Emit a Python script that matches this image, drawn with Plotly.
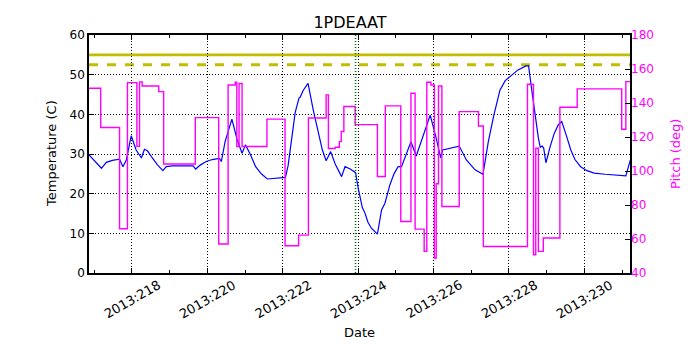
import plotly.graph_objects as go

# ---- data (day of year 2013) ----
temp_days = [216.86, 217.19, 217.32, 217.48, 217.67, 217.76, 217.85, 217.98, 218.11, 218.25,
             218.33, 218.41, 218.54, 218.67, 218.82, 218.91, 219.07, 219.62, 219.69, 219.81,
             219.97, 220.13, 220.32, 220.37, 220.47, 220.65, 220.79, 220.92, 221.01, 221.14,
             221.28, 221.43, 221.59, 222.07, 222.14, 222.25, 222.33, 222.43, 222.46, 222.54,
             222.67, 222.81, 222.96, 223.05, 223.15, 223.27, 223.39, 223.56, 223.65, 223.79,
             223.93, 224.00, 224.11, 224.18, 224.26, 224.35, 224.51, 224.62, 224.71, 224.84,
             224.95, 225.06, 225.15, 225.25, 225.40, 225.54, 225.72, 225.91, 226.06, 226.19,
             226.24, 226.44, 226.68, 226.87, 227.10, 227.31, 227.45, 227.59, 227.76,
             227.90, 228.03, 228.24, 228.45, 228.52, 228.58, 228.64, 228.71, 228.78, 228.83,
             228.88, 228.92, 228.98, 229.09, 229.20, 229.31, 229.40, 229.51, 229.64, 229.75,
             229.90, 230.07, 230.26, 230.55, 231.10, 231.22]
temp_vals = [29.8, 26.4, 27.9, 28.4, 28.7, 26.8, 28.5, 34.6, 31.0, 29.0,
             31.2, 30.8, 29.0, 27.3, 25.8, 26.8, 27.0, 27.0, 26.2, 27.2,
             28.1, 28.6, 28.9, 28.1, 33.1, 38.8, 33.6, 30.2, 32.3, 29.9,
             26.8, 25.0, 23.7, 24.1, 27.0, 35.2, 40.5, 44.1, 44.3, 46.0,
             47.8, 41.0, 34.4, 31.0, 28.3, 30.6, 27.5, 24.3, 26.8, 26.2,
             25.3, 21.4, 16.5, 15.1, 12.8, 11.3, 9.8, 15.9, 17.6, 22.2,
             25.0, 26.8, 26.8, 29.5, 33.1, 29.5, 34.4, 39.8, 34.4, 29.0,
             31.0, 31.5, 32.0, 28.5, 26.0, 24.9, 33.0, 39.4, 46.1,
             48.5, 49.5, 51.2, 52.2, 52.2, 47.8, 43.5, 38.6, 34.0, 31.7,
             32.0, 31.5, 27.8, 31.8, 35.2, 37.4, 38.2, 35.0, 31.0, 28.6,
             26.8, 25.8, 25.2, 24.9, 24.5, 28.5]

pitch_days = [216.86, 217.17, 217.67, 217.88, 218.13, 218.20, 218.27, 218.71, 218.84, 219.68,
              220.30, 220.55, 220.74, 220.78, 220.84, 220.92, 221.58, 222.06, 222.42, 222.68,
              223.15, 223.21, 223.39, 223.50, 223.55, 223.62, 223.92, 224.51, 224.72, 225.13,
              225.40, 225.51, 225.75, 225.82, 225.93, 226.02, 226.07, 226.13, 226.22, 226.68,
              227.19, 227.32, 228.49, 228.65, 228.71, 228.78, 228.91, 229.35, 229.81, 230.99,
              231.10, 231.21]
pitch_vals = [148.7, 125.6, 66.0, 152.0, 114.5, 152.4, 150.0, 146.7, 104.1, 131.4,
              57.1, 150.6, 152.2, 114.4, 151.5, 114.4, 130.5, 56.0, 62.3, 131.2,
              144.8, 113.2, 114.0, 117.3, 123.2, 137.9, 127.3, 96.8, 138.3, 70.3,
              145.7, 65.8, 52.7, 152.2, 150.6, 48.8, 92.5, 150.0, 79.1, 134.9,
              126.5, 55.6, 151.0, 50.7, 113.4, 52.7, 60.6, 137.5, 148.3, 124.6,
              152.6, 152.6]

tick_days = [218, 220, 222, 224, 226, 228, 230]
tick_labels = ["2013:218", "2013:220", "2013:222", "2013:224", "2013:226", "2013:228", "2013:230"]

planning_limit = 55.0
caution_limit = 52.5
marker_day = 223.93

FONT = "DejaVu Sans"
MAG = "#ff00ff"
GRID_DASH = "1px,2px"

fig = go.Figure()
fig.add_trace(go.Scatter(x=temp_days, y=temp_vals, mode="lines",
                         line=dict(color="#0000ff", width=1.2), yaxis="y"))
fig.add_trace(go.Scatter(x=pitch_days, y=pitch_vals, mode="lines", line_shape="hv",
                         line=dict(color=MAG, width=1.4), yaxis="y2"))

fig.add_hline(y=planning_limit, line=dict(color="#bfbf00", width=2.8), layer="below")
fig.add_hline(y=caution_limit, line=dict(color="#bfbf00", width=2.8, dash="dash"), layer="below")
fig.add_vline(x=marker_day, line=dict(color="#008000", width=1.6, dash="1px,2px"))

# x tick labels, rotated and centred on their ticks
for d, lab in zip(tick_days, tick_labels):
    fig.add_annotation(x=d, xref="x", y=0, yref="paper", yshift=-26, text=lab,
                       showarrow=False, textangle=-30, xanchor="center", yanchor="middle",
                       font=dict(family=FONT, size=13, color="black"))

fig.add_annotation(x=0.5, xref="paper", y=0, yref="paper", yshift=-59, text="Date",
                   showarrow=False, xanchor="center", yanchor="middle",
                   font=dict(family=FONT, size=13, color="black"))
fig.add_annotation(x=0, xref="paper", xshift=-38, y=0.5, yref="paper", text="Temperature (C)",
                   showarrow=False, textangle=-90, xanchor="center", yanchor="middle",
                   font=dict(family=FONT, size=13, color="black"))
fig.add_annotation(x=1, xref="paper", xshift=45, y=0.5, yref="paper", text="Pitch (deg)",
                   showarrow=False, textangle=-90, xanchor="center", yanchor="middle",
                   font=dict(family=FONT, size=13, color=MAG))

fig.update_layout(
    width=700, height=350,
    margin=dict(l=89, r=70, t=35, b=77),
    paper_bgcolor="white", plot_bgcolor="white",
    showlegend=False,
    font=dict(family=FONT, size=12, color="black"),
    title=dict(text="1PDEAAT", x=0.5, xanchor="center", y=0.937, yanchor="middle",
               font=dict(family=FONT, size=16, color="black")),
    xaxis=dict(range=[216.86, 231.21], tickvals=tick_days, showticklabels=False,
               ticks="inside", ticklen=5, tickcolor="black", automargin=False,
               minor=dict(dtick=1, tick0=217, ticks="inside", ticklen=3, tickcolor="black",
                          showgrid=False),
               showline=True, linecolor="black", linewidth=1.5, mirror="ticks",
               showgrid=True, gridcolor="black", griddash=GRID_DASH, gridwidth=1,
               zeroline=False),
    yaxis=dict(range=[0, 60], tickvals=[0, 10, 20, 30, 40, 50, 60], automargin=False,
               ticks="inside", ticklen=5, tickcolor="black",
               showline=True, linecolor="black", linewidth=1.5, mirror=True,
               showgrid=True, gridcolor="black", griddash=GRID_DASH, gridwidth=1,
               zeroline=False, tickfont=dict(size=12)),
    yaxis2=dict(range=[40, 180], tickvals=[40, 60, 80, 100, 120, 140, 160, 180],
                overlaying="y", side="right", ticks="inside", ticklen=5, tickcolor="black",
                showline=False, showgrid=False, zeroline=False, automargin=False,
                tickfont=dict(size=12, color=MAG)),
)

fig.write_html("out.html", config={"displayModeBar": False},
               post_script="document.body.style.margin='0';document.body.style.overflow='hidden';")
